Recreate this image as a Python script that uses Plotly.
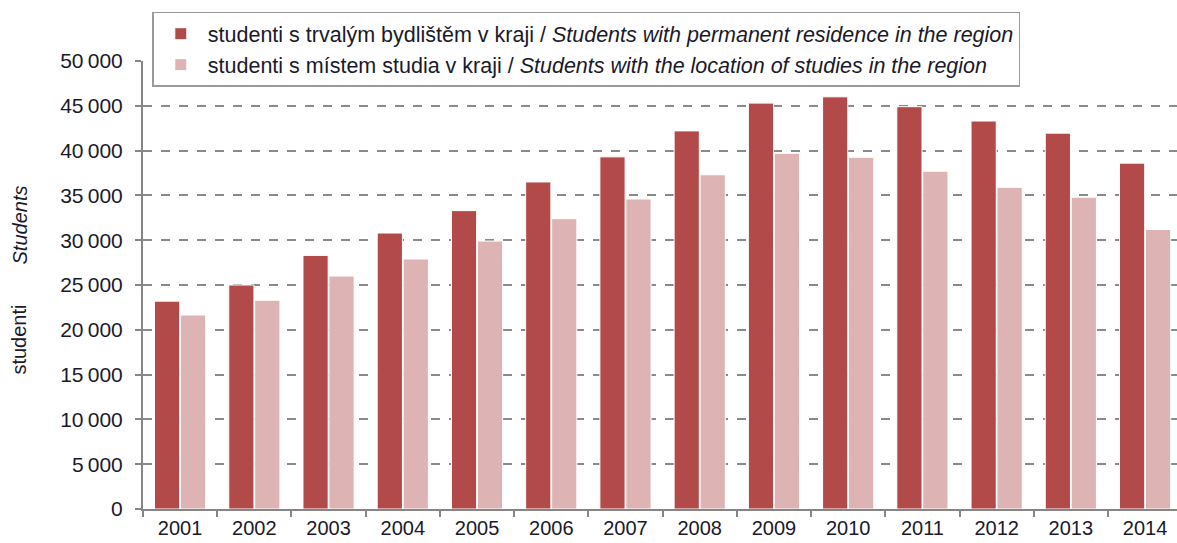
import plotly.graph_objects as go

years = ["2001", "2002", "2003", "2004", "2005", "2006", "2007",
         "2008", "2009", "2010", "2011", "2012", "2013", "2014"]
residence = [23200, 25000, 28300, 30800, 33300, 36500, 39300,
             42200, 45300, 46000, 44900, 43300, 41950, 38600]
study_location = [21650, 23300, 26000, 27900, 29900, 32400, 34600,
                  37300, 39700, 39250, 37700, 35900, 34800, 31200]

name_residence = "studenti s trvalým bydlištěm v kraji / <i>Students with permanent residence in the region</i>"
name_study = "studenti s místem studia v kraji / <i>Students with the location of studies in the region</i>"

y_ticks = list(range(0, 50001, 5000))
y_tick_text = [f"{v:,}".replace(",", "\u2009") for v in y_ticks]

FONT = "Liberation Sans, Arial, sans-serif"
TEXT = "#1a1a2a"
AXIS = "#868686"

fig = go.Figure()
fig.add_trace(go.Bar(
    x=years, y=residence, name=name_residence,
    marker=dict(color="#B24A4A", line=dict(color="#ffffff", width=1)),
))
fig.add_trace(go.Bar(
    x=years, y=study_location, name=name_study,
    marker=dict(color="#DDB3B3", line=dict(color="#ffffff", width=1)),
))

fig.update_layout(
    width=1177, height=543,
    margin=dict(l=143, r=0, t=61, b=34),
    paper_bgcolor="white", plot_bgcolor="white",
    barmode="group", bargap=0.30, bargroupgap=0.03,
    font=dict(family=FONT, size=20, color=TEXT),
    showlegend=True,
    legend=dict(
        x=0.009, y=1.11, xanchor="left", yanchor="top",
        bgcolor="white", bordercolor="#9a9a9a", borderwidth=1.5,
        font=dict(family=FONT, size=21.5, color=TEXT),
        tracegroupgap=0, itemwidth=44,
    ),
    xaxis=dict(
        type="category", range=[-0.5, 13.43],
        showline=True, linecolor=AXIS, linewidth=2,
        ticks="outside", tickson="boundaries", ticklen=6, tickcolor=AXIS, tickwidth=2,
        showgrid=False, tickfont=dict(size=20, color=TEXT),
    ),
    yaxis=dict(
        range=[0, 50000], tickvals=y_ticks, ticktext=y_tick_text,
        showline=True, linecolor=AXIS, linewidth=2,
        ticks="outside", ticklen=6, tickcolor=AXIS, tickwidth=2,
        ticklabelstandoff=8,
        showgrid=True, gridcolor="#8a8a8a", gridwidth=1.5, griddash="dash",
        zeroline=False, tickfont=dict(size=21, color=TEXT),
    ),
)

# two-part vertical axis title
fig.add_annotation(text="studenti", xref="paper", yref="paper",
                   x=-0.132, y=0.377, textangle=-90, showarrow=False,
                   font=dict(family=FONT, size=20, color=TEXT))
fig.add_annotation(text="<i>Students</i>", xref="paper", yref="paper",
                   x=-0.132, y=0.634, textangle=-90, showarrow=False,
                   font=dict(family=FONT, size=20, color=TEXT))

fig.write_html("out.html")
